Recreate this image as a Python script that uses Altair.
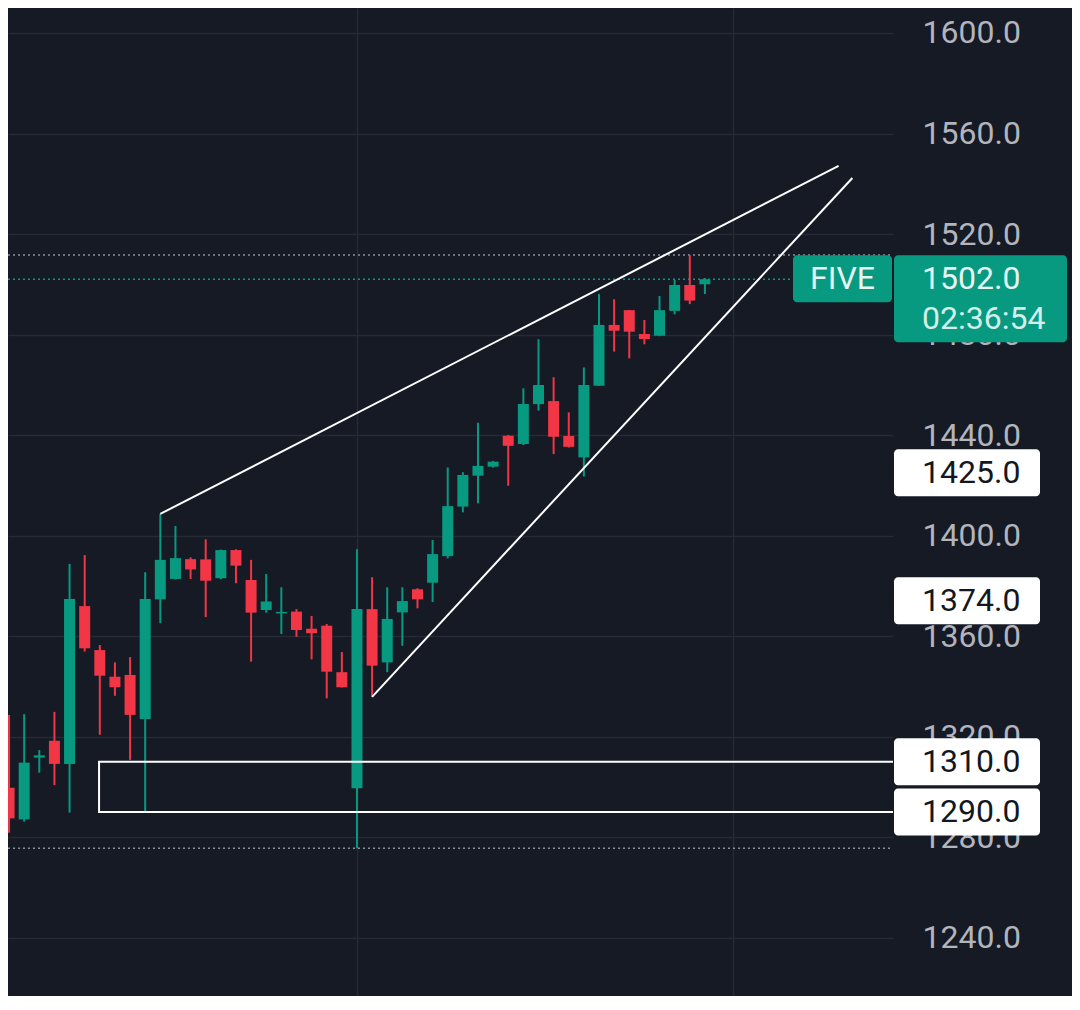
import altair as alt
import pandas as pd

# ---------------- data ----------------
candle_index = list(range(47))
opens = [1299.6, 1287.0, 1311.6, 1318.3, 1309.1, 1371.9, 1354.4, 1343.8, 1344.5, 1327.0,
         1374.6, 1382.7, 1390.6, 1390.5, 1383.0, 1394.2, 1382.3, 1370.4, 1369.0, 1369.7,
         1362.9, 1364.1, 1345.6, 1299.4, 1370.7, 1349.5, 1369.4, 1378.6, 1381.2, 1391.8,
         1411.5, 1423.8, 1427.4, 1439.7, 1436.4, 1452.3, 1453.5, 1439.6, 1431.1, 1459.6,
         1483.8, 1489.7, 1480.2, 1479.5, 1489.4, 1499.7, 1500.0]
highs = [1328.6, 1328.9, 1314.6, 1329.8, 1388.7, 1392.2, 1356.4, 1349.5, 1351.6, 1385.4,
         1408.6, 1403.8, 1391.3, 1398.5, 1394.4, 1394.5, 1390.3, 1384.7, 1379.4, 1370.7,
         1368.0, 1364.8, 1353.6, 1394.5, 1383.4, 1379.4, 1379.4, 1379.0, 1398.2, 1427.1,
         1425.2, 1444.9, 1429.7, 1440.0, 1458.6, 1478.1, 1463.0, 1449.0, 1466.9, 1496.1,
         1494.0, 1489.7, 1485.8, 1495.3, 1501.7, 1511.6, 1502.5]
lows = [1281.7, 1286.1, 1305.6, 1300.7, 1289.7, 1353.8, 1320.7, 1336.2, 1310.7, 1290.1,
        1365.1, 1382.5, 1382.7, 1367.5, 1382.6, 1381.0, 1349.8, 1369.3, 1360.8, 1359.7,
        1350.7, 1335.2, 1339.5, 1275.5, 1335.8, 1345.6, 1356.1, 1371.0, 1373.5, 1390.9,
        1409.2, 1412.8, 1427.0, 1419.8, 1436.0, 1449.7, 1432.4, 1435.0, 1423.5, 1459.5,
        1473.2, 1470.5, 1476.1, 1479.3, 1488.0, 1492.1, 1496.1]
closes = [1287.4, 1309.6, 1312.5, 1309.1, 1374.7, 1355.1, 1344.2, 1339.6, 1328.6, 1374.7,
          1390.3, 1391.0, 1386.5, 1382.0, 1394.2, 1388.0, 1369.3, 1373.7, 1369.6, 1362.4,
          1361.1, 1345.8, 1339.6, 1370.7, 1348.2, 1366.8, 1373.9, 1374.6, 1392.6, 1411.7,
          1424.1, 1427.7, 1429.4, 1435.7, 1452.3, 1459.9, 1439.3, 1435.3, 1459.9, 1483.8,
          1481.5, 1481.1, 1478.2, 1489.7, 1499.7, 1493.5, 1502.0]

price_ticks = [1240, 1280, 1320, 1360, 1400, 1440, 1480, 1520, 1560, 1600]
time_grid = [23, 47.84]

# trend lines (start index, start price, end index, end price)
trend_x = [10, 24]
trend_y = [1408.6, 1335.8]
trend_x2 = [54.84, 55.75]
trend_y2 = [1547.1, 1542.3]

# zone rectangle (runs on past the right edge of the plot)
zone_x = [5.95]
zone_top = [1310.0]
zone_bottom = [1290.0]

# dotted reference levels
gray_levels = [1511.6, 1275.5]
last_price = [1502.0]

# axis price labels
box_prices = [1425.0, 1374.0, 1310.0, 1290.0]
box_labels = ["1425.0", "1374.0", "1310.0", "1290.0"]

ticker = "FIVE"
last_label = "1502.0"
countdown = "02:36:54"

# ---------------- styling ----------------
BG = "#161a25"
GRID = "#262a36"
GREEN = "#089981"
RED = "#f23645"
AXIS_TXT = "#b2b5be"
FONT = "Roboto"

PLOT_W = 885
PLOT_H = 988
X_DOM = [0.261, 58.105]
Y_DOM = [1216.72, 1609.95]

xs = alt.Scale(domain=X_DOM, nice=False, zero=False)
ys = alt.Scale(domain=Y_DOM, nice=False, zero=False)

yaxis = alt.Axis(orient="right", values=price_ticks, format=".1f", grid=True,
                 gridColor=GRID, gridWidth=1.5, ticks=False, domain=False, title=None,
                 labelFont=FONT, labelFontSize=32, labelColor=AXIS_TXT,
                 labelPadding=29, labelAlign="left", labelBaseline="middle",
                 labelFlush=False, labelOverlap=False)
xaxis = alt.Axis(values=time_grid, grid=True, gridColor=GRID, gridWidth=1.5,
                 labels=False, ticks=False, domain=False, title=None)

df = pd.DataFrame({"i": candle_index, "o": opens, "h": highs, "l": lows, "c": closes})
df["dir"] = ["up" if c >= o else "down" for o, c in zip(opens, closes)]

color = alt.Color("dir:N", scale=alt.Scale(domain=["up", "down"], range=[GREEN, RED]),
                  legend=None)

base = alt.Chart(df)

wicks = base.mark_rule(strokeWidth=2, clip=True).encode(
    x=alt.X("i:Q", scale=xs, axis=xaxis),
    y=alt.Y("l:Q", scale=ys, axis=yaxis),
    y2="h:Q",
    color=color,
)

bodies = base.mark_bar(width=11, clip=True).encode(
    x=alt.X("i:Q", scale=xs, axis=xaxis),
    y=alt.Y("o:Q", scale=ys, axis=yaxis),
    y2="c:Q",
    color=color,
)

gray_df = pd.DataFrame({"p": gray_levels})
gray_lines = alt.Chart(gray_df).mark_rule(
    color="#8c909b", strokeWidth=1.5, strokeDash=[2, 3]
).encode(
    y=alt.Y("p:Q", scale=ys, axis=yaxis),
    x=alt.value(0), x2=alt.value(PLOT_W),
)

last_df = pd.DataFrame({"p": last_price})
last_line = alt.Chart(last_df).mark_rule(
    color=GREEN, strokeWidth=1.5, strokeDash=[2, 3]
).encode(
    y=alt.Y("p:Q", scale=ys, axis=yaxis),
    x=alt.value(0), x2=alt.value(785),
)

zone_df = pd.DataFrame({"x": zone_x, "x2": [X_DOM[1] + 2], "top": zone_top, "bot": zone_bottom})
zone = alt.Chart(zone_df).mark_rect(
    fillOpacity=0, stroke="white", strokeWidth=2, clip=True
).encode(
    x=alt.X("x:Q", scale=xs, axis=xaxis), x2="x2:Q",
    y=alt.Y("top:Q", scale=ys, axis=yaxis), y2="bot:Q",
)

trend_df = pd.DataFrame({"x": trend_x, "y": trend_y, "x2": trend_x2, "y2": trend_y2})
trends = alt.Chart(trend_df).mark_rule(color="white", strokeWidth=2, clip=True).encode(
    x=alt.X("x:Q", scale=xs, axis=xaxis), x2="x2:Q",
    y=alt.Y("y:Q", scale=ys, axis=yaxis), y2="y2:Q",
)

box_df = pd.DataFrame({"p": box_prices, "t": box_labels})
boxes = alt.Chart(box_df).mark_rect(
    color="white", cornerRadius=4, yOffset=-23.5, y2Offset=23.5
).encode(
    y=alt.Y("p:Q", scale=ys, axis=yaxis), y2="p:Q",
    x=alt.value(886), x2=alt.value(1032),
)
box_text = alt.Chart(box_df).mark_text(
    align="left", baseline="middle", font=FONT, fontSize=32, color="#131722"
).encode(
    y=alt.Y("p:Q", scale=ys, axis=yaxis), x=alt.value(914), text="t:N",
)

tk_df = pd.DataFrame({"p": last_price, "name": [ticker], "lab": [last_label], "cd": [countdown]})
tk_box = alt.Chart(tk_df).mark_rect(
    color=GREEN, cornerRadius=4, yOffset=-24, y2Offset=23
).encode(
    y=alt.Y("p:Q", scale=ys, axis=yaxis), y2="p:Q",
    x=alt.value(785), x2=alt.value(884),
)
tk_text = alt.Chart(tk_df).mark_text(
    align="center", baseline="middle", font=FONT, fontSize=32, color="#e6f5f1"
).encode(
    y=alt.Y("p:Q", scale=ys, axis=yaxis), x=alt.value(834.5), text="name:N",
)
price_box = alt.Chart(tk_df).mark_rect(
    color=GREEN, cornerRadius=4, yOffset=-24, y2Offset=63
).encode(
    y=alt.Y("p:Q", scale=ys, axis=yaxis), y2="p:Q",
    x=alt.value(886), x2=alt.value(1059),
)
price_text = alt.Chart(tk_df).mark_text(
    align="left", baseline="middle", font=FONT, fontSize=32, color="#e6f5f1"
).encode(
    y=alt.Y("p:Q", scale=ys, axis=yaxis), x=alt.value(914), text="lab:N",
)
cd_text = alt.Chart(tk_df).mark_text(
    align="left", baseline="middle", font=FONT, fontSize=32, color="#d4efe9", dy=40
).encode(
    y=alt.Y("p:Q", scale=ys, axis=yaxis), x=alt.value(914), text="cd:N",
)

chart = alt.layer(
    gray_lines, last_line, wicks, bodies, zone, trends,
    boxes, box_text, tk_box, tk_text, price_box, price_text, cd_text,
).properties(
    width=PLOT_W, height=PLOT_H,
    autosize=alt.AutoSizeParams(type="none"),
    padding={"left": 0, "top": 0, "right": 179, "bottom": 0},
    background=BG,
).configure_view(stroke=None)

chart.save("out.html", embed_options={"renderer": "svg", "actions": False})
